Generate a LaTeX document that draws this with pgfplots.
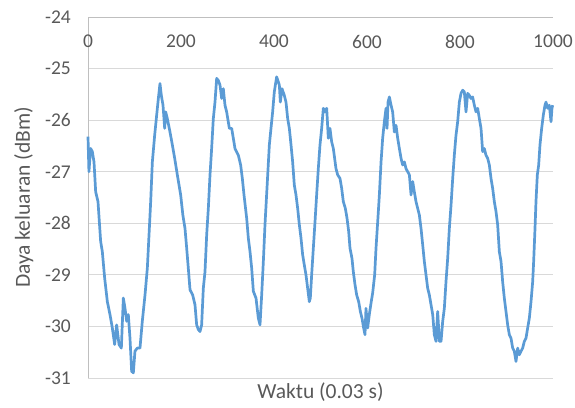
\documentclass[border=0pt]{standalone}
\usepackage{fontspec}
\setmainfont{Carlito}
\usepackage{pgfplots}
\pgfplotsset{compat=1.18}
\definecolor{txt}{HTML}{595959}
\definecolor{gridc}{HTML}{D9D9D9}
\definecolor{axc}{HTML}{BFBFBF}
\definecolor{lineblue}{HTML}{5B9BD5}
\begin{document}
\begin{tikzpicture}
\path (0,0) rectangle (575bp,408bp);
\begin{axis}[
  at={(88bp,30bp)}, anchor=south west,
  scale only axis, width=465bp, height=361bp,
  xmin=0, xmax=1000, ymin=-31, ymax=-24,
  xtick={0,200,...,1000}, ytick={-31,-30,...,-24},
  axis x line*=top, axis y line*=left,
  axis line style={axc, line width=0.9bp},
  x axis line style={-}, y axis line style={-},
  ymajorgrids, grid style={gridc, line width=0.9bp},
  major tick length=0pt,
  /pgf/number format/assume math mode=true,
  /pgf/number format/1000 sep={},
  tick label style={font=\fontsize{19.5bp}{22bp}\selectfont, text=txt},
  xticklabel style={anchor=north, inner sep=0pt, yshift=-18bp},
  yticklabel style={anchor=east, inner sep=0pt, xshift=-17bp},
  xlabel={Waktu (0.03 s)},
  ylabel={Daya keluaran (dBm)},
  label style={font=\fontsize{21.5bp}{25bp}\selectfont, text=txt},
  xlabel style={at={(axis description cs:0.5,0)}, anchor=north, inner sep=0pt, yshift=-5bp},
  ylabel style={at={(axis description cs:-0.138,0.5)}, anchor=center, inner sep=0pt},
  clip=false,
]
\addplot[lineblue, line width=2.7bp, line join=round, no marks] coordinates {
(0,-26.32) (2,-27.00) (5.7,-26.55) (9.3,-26.61) (12.9,-26.81) (16.5,-27.39) (21.5,-27.58) (27.2,-28.35) (30.8,-28.55) (35.8,-29.06) (41.6,-29.52) (47.3,-29.77) (52.3,-30.03) (57.3,-30.35) (61.6,-29.97) (66.7,-30.35) (71.7,-30.42) (76,-29.45) (79.6,-29.65) (83.2,-29.90) (86.7,-29.77) (90.3,-30.23) (93.9,-30.87) (97.5,-30.90) (101,-30.48) (106,-30.42) (111.8,-30.42) (116.8,-29.90) (122.6,-29.39) (127.6,-28.87) (131.2,-28.23) (134.8,-27.58) (138.4,-26.81) (143.4,-26.29) (147.7,-25.90) (151.3,-25.58) (154.8,-25.29) (157.7,-25.52) (161.3,-25.71) (164.9,-26.16) (167,-25.84) (170.6,-25.97) (176.3,-26.23) (181.4,-26.48) (186.4,-26.74) (192.1,-27.06) (199.3,-27.45) (204,-27.84) (208.6,-28.10)
(212.2,-28.48) (215.7,-28.87) (219.4,-29.29) (225.1,-29.39) (230.1,-29.58) (233.7,-29.97) (237.3,-30.06) (240.9,-30.10) (244.4,-29.97) (248.0,-29.26) (251.6,-28.94) (255.2,-28.23) (258.8,-27.71) (262.4,-27.06) (265.9,-26.55) (269.5,-25.97) (273.1,-25.65) (276.7,-25.19) (280.2,-25.23) (283.9,-25.32) (287.5,-25.58) (291.0,-25.39) (294.6,-25.71) (298.2,-25.84) (304.0,-26.16) (309.0,-26.16) (312.5,-26.35) (316.1,-26.55) (323.3,-26.68) (328.3,-26.87) (331.9,-27.13) (335.5,-27.45) (341.2,-27.90) (344.8,-28.29) (348.4,-28.55) (352.0,-28.87) (355.6,-29.32) (361.3,-29.45) (366.3,-29.84) (369.9,-29.97) (373.5,-29.39) (377.1,-28.74) (380.6,-28.03) (385.7,-27.19) (390.0,-26.48) (393.5,-26.16) (397.1,-25.84) (400.7,-25.45) (405.7,-25.16) (409.3,-25.26)
(411.5,-25.32) (413.6,-25.65) (417.2,-25.39) (422.2,-25.52) (425.8,-25.65) (429.4,-25.97) (433.0,-26.16) (436.6,-26.48) (440.1,-26.81) (443.7,-27.26) (447.3,-27.45) (450.9,-27.71) (454.5,-28.03) (458.1,-28.29) (461.6,-28.61) (465.2,-28.81) (468.8,-29.00) (472.4,-29.26) (476.0,-29.52) (478.1,-29.45) (481.0,-29.00) (484.6,-28.48) (488.2,-27.97) (491.7,-27.45) (495.3,-26.94) (498.9,-26.48) (502.5,-26.16) (506.1,-25.77) (509.7,-25.84) (513.3,-25.77) (516.8,-26.35) (520.4,-26.16) (524.0,-26.42) (527.6,-26.55) (533.3,-26.94) (536.9,-27.06) (541.9,-27.13) (545.5,-27.32) (549.1,-27.58) (553.4,-27.71) (557.0,-27.90) (560.6,-28.16) (563.4,-28.48) (567.7,-28.68) (570.6,-28.94) (574.2,-29.19) (577.8,-29.39) (582.1,-29.52) (585.7,-29.71) (589.2,-29.84) (592.8,-30.03) (595.7,-30.16) (597.8,-29.65) (601.4,-30.03) (605.0,-29.77) (608.6,-29.55) (612.2,-29.35) (616.5,-29.00)
(619.4,-28.48) (623.0,-27.97) (626.6,-27.45) (630.2,-26.81) (633.7,-26.35) (637.3,-26.03) (640.9,-25.77) (643.1,-26.16) (645.2,-25.65) (648.1,-25.55) (651.7,-25.71) (655.2,-25.84) (658.8,-26.23) (662.4,-26.10) (666.0,-26.35) (669.6,-26.55) (673.2,-26.74) (676.7,-26.87) (680.3,-26.81) (683.9,-26.94) (687.5,-27.00) (691.1,-27.06) (694.7,-27.45) (698.3,-27.19) (701.8,-27.39) (705.4,-27.58) (709.0,-27.71) (712.6,-27.84) (716.2,-28.10) (719.8,-28.42) (723.3,-28.74) (726.9,-29.00) (730.5,-29.26) (734.1,-29.39) (737.7,-29.58) (741.3,-29.77) (744.8,-30.16) (748.4,-30.29) (752.0,-29.71) (755.6,-30.29) (759.2,-30.29) (762.8,-29.90) (766.3,-29.65) (769.9,-29.13) (773.5,-28.68) (777.1,-28.10) (780.7,-27.65) (784.3,-27.13) (787.8,-26.68) (791.4,-26.29) (795.0,-26.03) (798.6,-25.65) (802.2,-25.48) (805.8,-25.42) (809.3,-25.45) (812.9,-25.84)
(816.5,-25.48) (820.1,-25.52) (823.7,-25.58) (827.2,-25.55) (830.8,-25.71) (834.4,-25.84) (838.0,-25.77) (841.6,-25.97) (845.2,-26.16) (848.7,-26.61) (852.3,-26.55) (855.9,-26.68) (859.5,-26.74) (863.1,-26.87) (866.7,-27.13) (870.2,-27.32) (873.8,-27.58) (877.4,-27.77) (881.0,-28.03) (884.6,-28.55) (888.2,-28.74) (891.7,-29.13) (895.3,-29.45) (898.9,-29.71) (902.5,-29.97) (906.1,-30.16) (909.7,-30.23) (913.3,-30.42) (916.8,-30.48) (920.4,-30.68) (924.0,-30.42) (927.6,-30.55) (931.2,-30.48) (934.8,-30.42) (938.3,-30.29) (941.9,-30.23) (945.5,-30.03) (949.1,-29.84) (952.7,-29.52) (956.3,-29.13) (958.4,-28.74) (961.3,-28.10) (963.4,-27.58) (966.3,-27.06) (969.2,-26.87) (972.0,-26.48) (975.6,-26.16) (979.2,-25.90) (982.8,-25.71) (984.9,-25.65) (988.5,-25.77) (992.1,-25.71) (995.7,-26.03) (997.8,-25.77) (999.3,-25.71)
};
\end{axis}
\end{tikzpicture}
\end{document}
